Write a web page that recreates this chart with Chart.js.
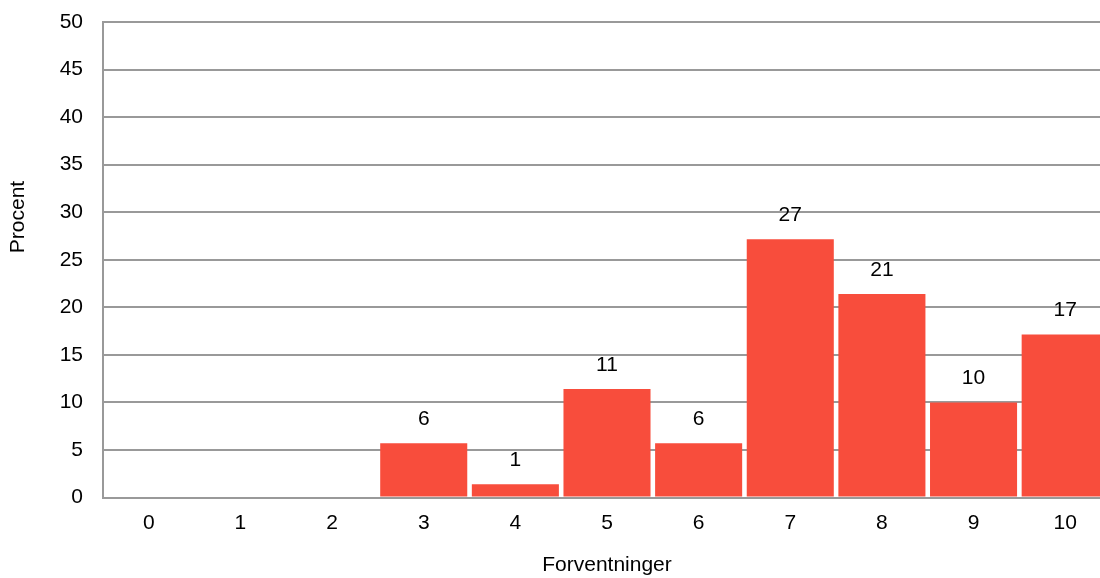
<!DOCTYPE html>
<html>
<head>
<meta charset="utf-8">
<script src="https://cdn.jsdelivr.net/npm/chart.js@4.4.1/dist/chart.umd.min.js"></script>
<style>
    html, body { margin: 0; padding: 0; background: #fff; overflow: hidden; }
    #wrap { position: relative; width: 1111px; height: 578px; }
</style>
</head>
<body>
<div id="wrap"><canvas id="chart"></canvas></div>
<script>
// ============================================
// DATA
// ============================================
const categories = ['0', '1', '2', '3', '4', '5', '6', '7', '8', '9', '10'];
const percentValues = [0, 0, 0, 5.7, 1.4, 11.4, 5.7, 27.15, 21.4, 10.0, 17.15];
const yTicks = [0, 5, 10, 15, 20, 25, 30, 35, 40, 45, 50];
const xTitle = 'Forventninger';
const yTitle = 'Procent';

const FONT = '"Liberation Sans", Arial, sans-serif';
const GRID = '#999999';

// value labels above bars (rounded, like the original)
const barLabels = {
    id: 'barLabels',
    afterDatasetsDraw(chart) {
        const ctx = chart.ctx;
        const meta = chart.getDatasetMeta(0);
        ctx.save();
        ctx.font = '21px ' + FONT;
        ctx.fillStyle = '#000';
        ctx.textAlign = 'center';
        ctx.textBaseline = 'middle';
        meta.data.forEach((bar, i) => {
            const v = Math.round(percentValues[i]);
            if (v <= 0) return;
            ctx.fillText(String(v), bar.x, bar.y - 24);
        });
        ctx.restore();
    }
};

// y axis title sits above the plot centre in the original
const yAxisTitle = {
    id: 'yAxisTitle',
    afterDraw(chart) {
        const ctx = chart.ctx;
        ctx.save();
        ctx.translate(18.5, 217);
        ctx.rotate(-Math.PI / 2);
        ctx.font = '21px ' + FONT;
        ctx.fillStyle = '#000';
        ctx.textAlign = 'center';
        ctx.textBaseline = 'middle';
        ctx.fillText(yTitle, 0, 0);
        ctx.restore();
    }
};

new Chart(document.getElementById('chart'), {
    type: 'bar',
    data: {
        labels: categories,
        datasets: [{
            data: percentValues,
            backgroundColor: '#f84d3c',
            borderWidth: 0,
            barPercentage: 0.95,
            categoryPercentage: 1.0
        }]
    },
    options: {
        responsive: true,
        maintainAspectRatio: false,
        animation: false,
        layout: { padding: { top: 22, right: 0, bottom: 0, left: 0 } },
        plugins: {
            legend: { display: false },
            tooltip: { enabled: false }
        },
        scales: {
            x: {
                grid: { display: false, drawTicks: false },
                border: { display: true, color: GRID, width: 2 },
                ticks: { color: '#000', font: { family: FONT, size: 21 }, padding: 13, maxRotation: 0 },
                title: { display: true, text: xTitle, color: '#000', font: { family: FONT, size: 21 }, padding: 0 },
                afterFit(scale) { scale.height = 80.5; }
            },
            y: {
                min: 0,
                max: 50,
                afterBuildTicks(scale) { scale.ticks = yTicks.map(v => ({ value: v })); },
                grid: { color: GRID, lineWidth: 2, drawTicks: false },
                border: { display: true, color: GRID, width: 2 },
                ticks: { color: '#000', font: { family: FONT, size: 21 }, padding: 20 },
                afterFit(scale) {
                    scale.width = 103;
                    scale.paddingTop = 0;
                    scale.paddingBottom = 0;
                }
            }
        }
    },
    plugins: [barLabels, yAxisTitle]
});
</script>
</body>
</html>
